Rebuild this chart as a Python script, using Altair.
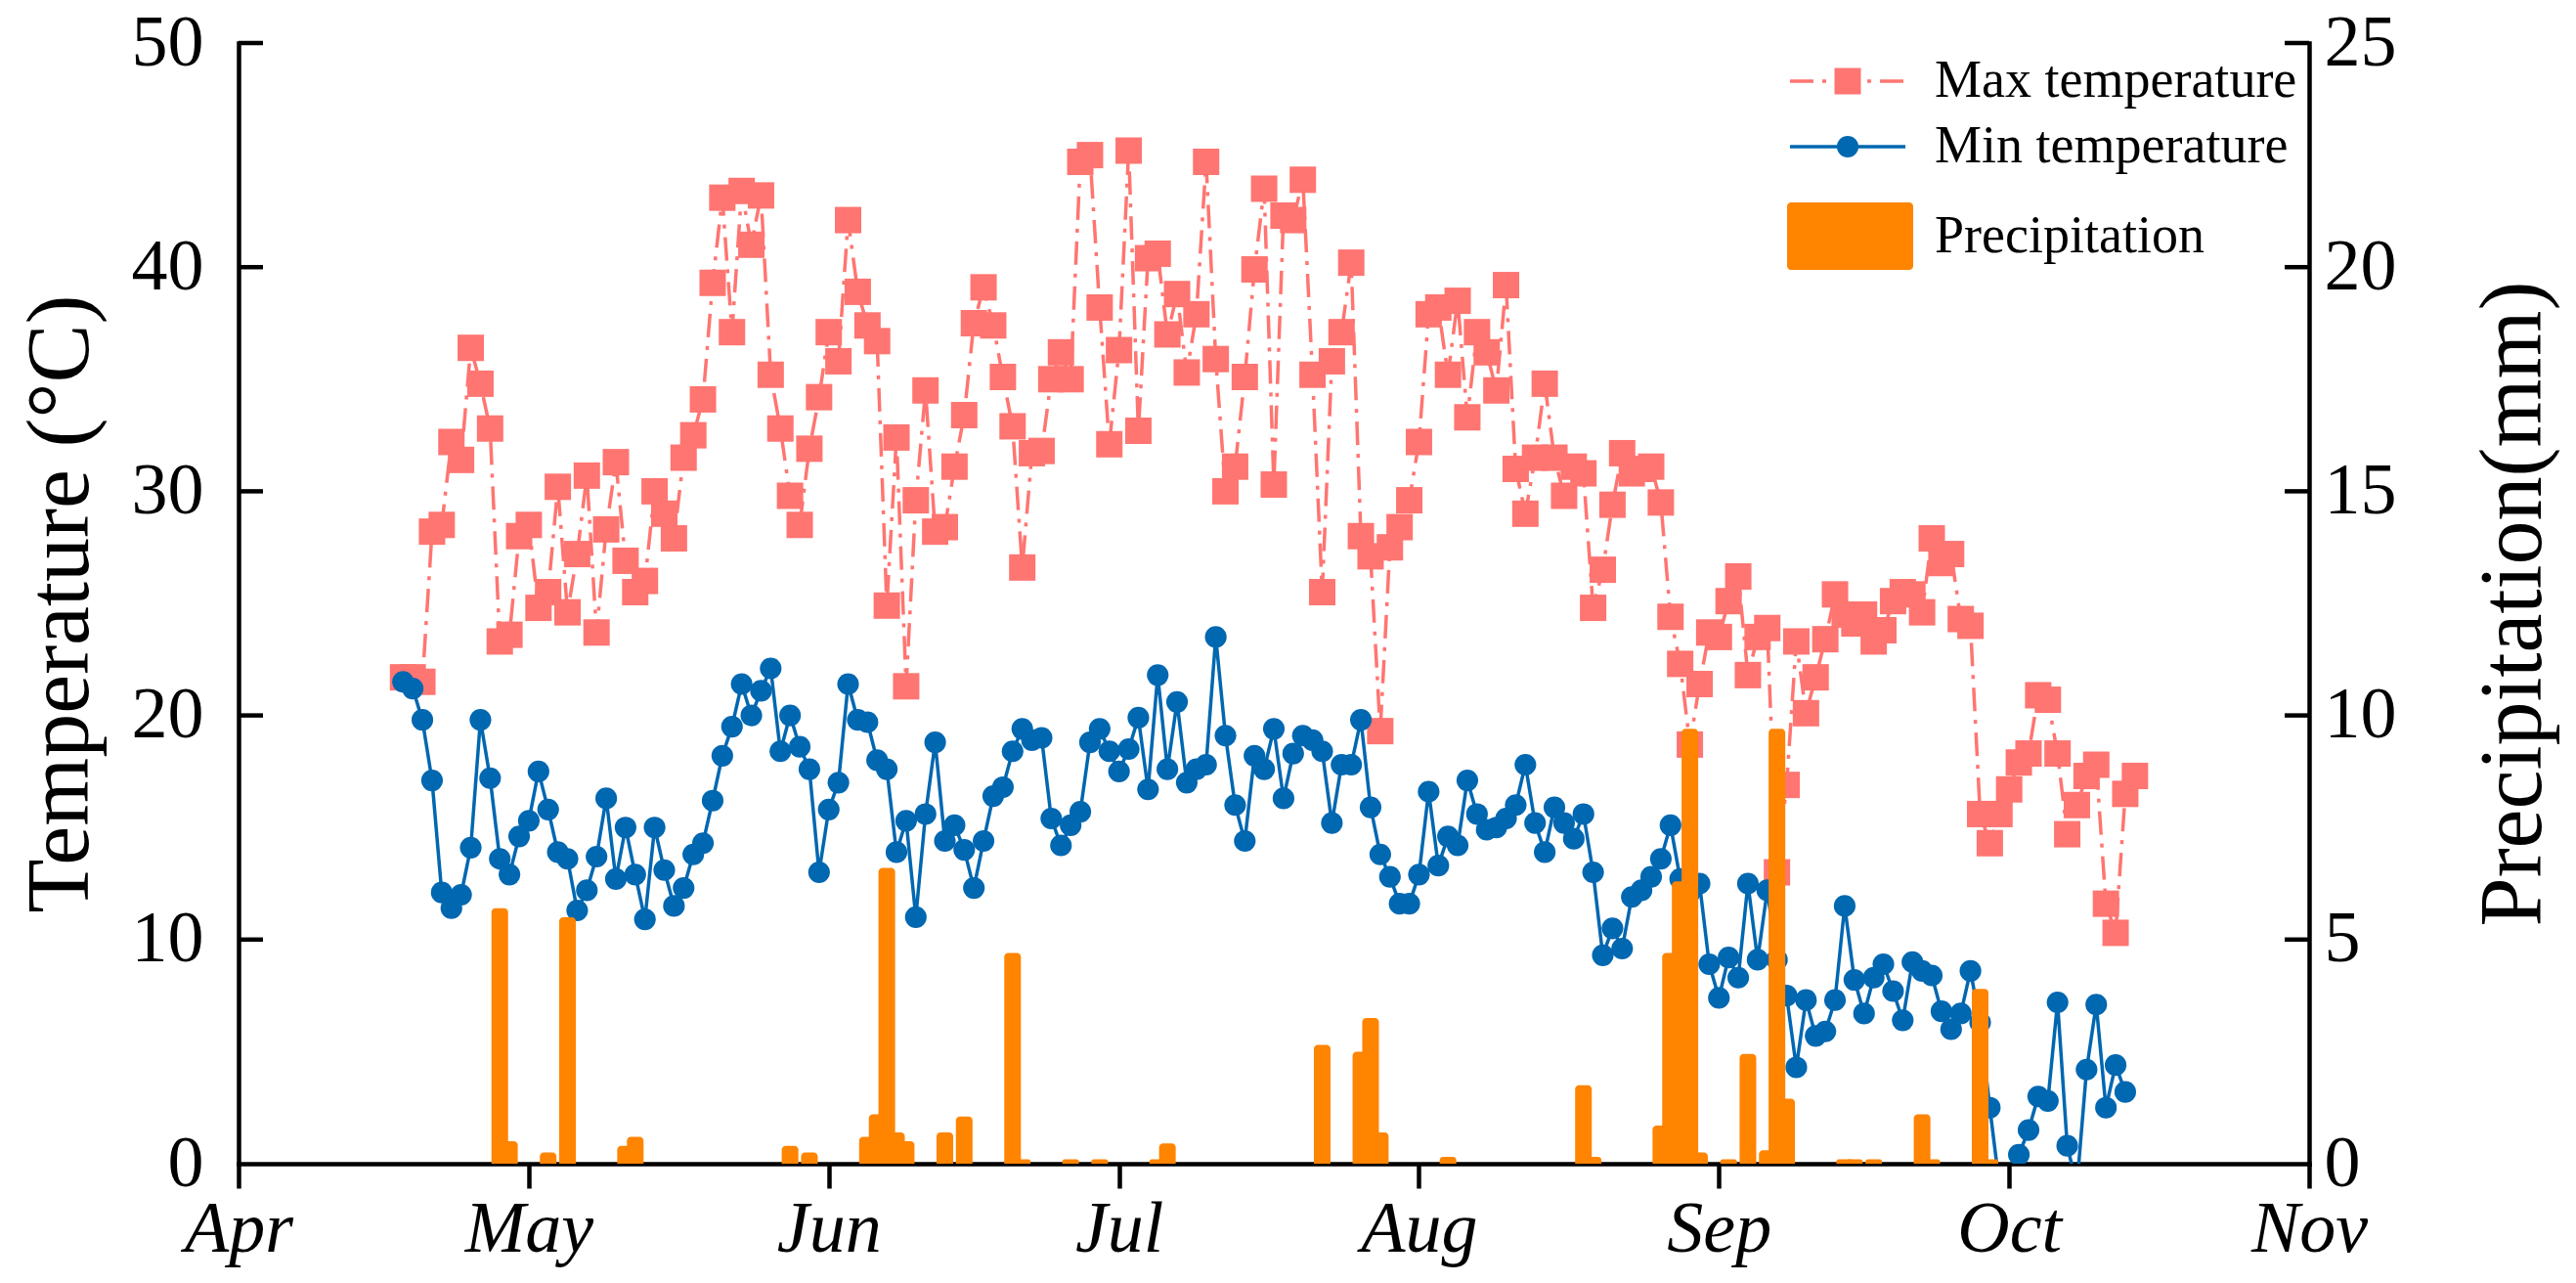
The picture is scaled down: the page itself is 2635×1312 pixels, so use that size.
import altair as alt
import pandas as pd

# ---------------- data ----------------
start_day = 17  # days after 1 April -> 18 April

max_temp = [
    21.7, 21.7, 21.5, 28.2, 28.5, 32.2, 31.4, 36.4, 34.8, 32.8,
    23.3, 23.6, 28.0, 28.5, 24.8, 25.5, 30.2, 24.6, 27.2, 30.7,
    23.7, 28.3, 31.3, 26.9, 25.5, 26.0, 30.0, 29.0, 27.9, 31.5,
    32.5, 34.1, 39.3, 43.1, 37.1, 43.4, 41.0, 43.2, 35.2, 32.8,
    29.8, 28.5, 31.9, 34.2, 37.1, 35.8, 42.1, 38.9, 37.4, 36.7,
    24.9, 32.4, 21.3, 29.6, 34.5, 28.2, 28.4, 31.1, 33.4, 37.5,
    39.1, 37.4, 35.1, 32.9, 26.6, 31.7, 31.8, 35.0, 36.2, 35.0,
    44.7, 45.0, 38.2, 32.1, 36.3, 45.2, 32.7, 40.4, 40.6, 37.0,
    38.8, 35.3, 37.9, 44.7, 35.9, 30.0, 31.1, 35.1, 39.9, 43.5,
    30.3, 42.3, 42.1, 43.9, 35.2, 25.5, 35.8, 37.1, 40.2, 28.0,
    27.1, 19.3, 27.5, 28.4, 29.6, 32.2, 37.9, 38.2, 35.2, 38.5,
    33.3, 37.1, 36.2, 34.5, 39.2, 31.0, 29.0, 31.5, 34.8, 31.5,
    29.8, 31.1, 30.8, 24.8, 26.5, 29.4, 31.7, 30.8, 31.0, 31.1,
    29.5, 24.4, 22.3, 18.7, 21.4, 23.7, 23.5, 25.1, 26.2, 21.8,
    23.5, 23.9, 13.0, 16.9, 23.3, 20.1, 21.7, 23.4, 25.4, 24.5,
    24.1, 24.5, 23.3, 23.8, 25.1, 25.5, 25.4, 24.6, 27.9, 26.8,
    27.2, 24.3, 24.0, 15.6, 14.3, 15.6, 16.7, 17.9, 18.3, 20.9,
    20.7, 18.3, 14.7, 16.0, 17.3, 17.8, 11.6, 10.3, 16.5, 17.3,
]

min_temp = [
    21.5, 21.2, 19.8, 17.1, 12.1, 11.4, 12.0, 14.1, 19.8, 17.2,
    13.6, 12.9, 14.6, 15.3, 17.5, 15.8, 13.9, 13.6, 11.3, 12.2,
    13.7, 16.3, 12.7, 15.0, 12.9, 10.9, 15.0, 13.1, 11.5, 12.3,
    13.8, 14.3, 16.2, 18.2, 19.5, 21.4, 20.0, 21.1, 22.1, 18.4,
    20.0, 18.6, 17.6, 13.0, 15.8, 17.0, 21.4, 19.8, 19.7, 18.0,
    17.6, 13.9, 15.3, 11.0, 15.6, 18.8, 14.4, 15.1, 14.0, 12.3,
    14.4, 16.4, 16.8, 18.4, 19.4, 18.9, 19.0, 15.4, 14.2, 15.1,
    15.7, 18.8, 19.4, 18.4, 17.5, 18.5, 19.9, 16.7, 21.8, 17.6,
    20.6, 17.0, 17.6, 17.8, 23.5, 19.1, 16.0, 14.4, 18.2, 17.6,
    19.4, 16.3, 18.3, 19.1, 18.9, 18.4, 15.2, 17.8, 17.8, 19.8,
    15.9, 13.8, 12.8, 11.6, 11.6, 12.9, 16.6, 13.3, 14.6, 14.2,
    17.1, 15.6, 14.9, 15.0, 15.4, 16.0, 17.8, 15.2, 13.9, 15.9,
    15.2, 14.5, 15.6, 13.0, 9.3, 10.5, 9.6, 11.9, 12.2, 12.8,
    13.6, 15.1, 12.7, 12.1, 12.5, 8.9, 7.4, 9.2, 8.3, 12.5,
    9.1, 12.2, 9.1, 7.5, 4.3, 7.3, 5.7, 5.9, 7.3, 11.5,
    8.2, 6.7, 8.3, 8.9, 7.7, 6.4, 9.0, 8.6, 8.4, 6.8,
    6.0, 6.7, 8.6, 6.3, 2.5, -1.0, -0.8, 0.4, 1.5, 3.0,
    2.8, 7.2, 0.8, -1.0, 4.2, 7.1, 2.5, 4.4, 3.2,
]

precip_day = [27, 28, 32, 34, 40, 41, 57, 59, 65, 66, 67, 68, 69, 73, 75, 80, 81,
              86, 89, 95, 96, 112, 116, 117, 118, 125, 139, 140, 147, 148, 149,
              150, 151, 154, 156, 158, 159, 160, 166, 167, 169, 174, 175, 180, 181]
precip_mm = [5.7, 0.5, 0.25, 5.5, 0.4, 0.6, 0.4, 0.25, 0.6, 1.1, 6.6, 0.7, 0.5, 0.7, 1.05, 4.7, 0.1,
             0.1, 0.1, 0.1, 0.45, 2.65, 2.5, 3.25, 0.7, 0.15, 1.75, 0.15, 0.85, 4.7, 6.3,
             9.7, 0.25, 0.1, 2.45, 0.3, 9.7, 1.45, 0.1, 0.1, 0.1, 1.1, 0.1, 3.9, 0.1]

month_ticks = [0, 30, 61, 91, 122, 153, 183, 214]
month_labels = ["Apr", "May", "Jun", "Jul", "Aug", "Sep", "Oct", "Nov"]
temp_ticks = [0, 10, 20, 30, 40, 50]
precip_ticks = [0, 5, 10, 15, 20, 25]

series_names = ["Max temperature", "Min temperature", "Precipitation"]

# ---------------- tables ----------------
df_max = pd.DataFrame({"day": [start_day + i for i in range(len(max_temp))], "t": max_temp})
df_min = pd.DataFrame({"day": [start_day + i for i in range(len(min_temp))], "t": min_temp})
df_pr = pd.DataFrame({"day": precip_day, "p": precip_mm})
df_tt = pd.DataFrame({"t": temp_ticks[1:]})
df_pt = pd.DataFrame({"p": precip_ticks[1:]})

# ---------------- styles ----------------
W, H = 2118, 1146
FONT = "Liberation Serif"
C_MAX = "#FF7571"
C_MIN = "#0067B1"
C_PR = "#FF8400"
DASH = [24, 9, 4, 9]
LW = 3.5
AXW = 4.5
BAR_HALF = 0.86  # half bar width, in days

label_expr = ("[" + ",".join(f"'{m}'" for m in month_labels) + "][indexof(["
              + ",".join(str(v) for v in month_ticks) + "], datum.value)]")

x_scale = alt.Scale(domain=[month_ticks[0], month_ticks[-1]], nice=False, zero=False)
x_axis = alt.Axis(values=month_ticks, labelExpr=label_expr, title=None,
                  tickSize=25, labelPadding=6, labelFontStyle="italic",
                  labelFlush=False, labelOverlap=False, labelAngle=0)
x_enc = alt.X("day:Q", scale=x_scale, axis=x_axis)

t_scale = alt.Scale(domain=[0, 50], nice=False, zero=True)
p_scale = alt.Scale(domain=[0, 25], nice=False, zero=True)

t_axis = alt.Axis(orient="left", values=temp_ticks, ticks=False, tickSize=0,
                  labelPadding=36, labelFlush=False, format="d",
                  title="Temperature (°C)", titleX=-226, titleY=H / 2,
                  titleAngle=270, titleBaseline="top", titleAlign="center")
p_axis = alt.Axis(orient="right", values=precip_ticks, ticks=False, tickSize=0,
                  labelPadding=15, labelFlush=False, format="d",
                  title="Precipitation(mm)", titleX=165, titleY=H / 2,
                  titleAngle=270, titleBaseline="top", titleAlign="center")

t_enc = alt.Y("t:Q", scale=t_scale, axis=t_axis)
p_enc = alt.Y("p:Q", scale=p_scale, axis=p_axis)

# ---------------- temperature layer ----------------
max_line = alt.Chart(df_max).mark_line(color=C_MAX, strokeWidth=LW, strokeDash=DASH, clip=True).encode(
    x=x_enc, y=t_enc)
max_pts = alt.Chart(df_max).mark_point(shape="square", filled=True, opacity=1, size=729,
                                       color=C_MAX, clip=True).encode(x=x_enc, y=t_enc)
min_line = alt.Chart(df_min).mark_line(color=C_MIN, strokeWidth=LW, clip=True).encode(
    x=x_enc, y=t_enc)
min_pts = alt.Chart(df_min).mark_point(shape="circle", filled=True, opacity=1, size=490,
                                       color=C_MIN, clip=True).encode(x=x_enc, y=t_enc)
t_ticks = alt.Chart(df_tt).mark_rule(color="black", strokeWidth=AXW).encode(
    x=alt.value(0), x2=alt.value(25), y=t_enc)

temp_layer = alt.layer(max_line, max_pts, min_line, min_pts, t_ticks)

# ---------------- precipitation layer ----------------
bars = (
    alt.Chart(df_pr)
    .transform_calculate(x0=f"datum.day - {BAR_HALF}", x1=f"datum.day + {BAR_HALF}", p0="0")
    .mark_bar(color=C_PR, cornerRadiusTopLeft=4, cornerRadiusTopRight=4)
    .encode(x=alt.X("x0:Q", scale=x_scale, axis=x_axis), x2="x1:Q",
            y=p_enc, y2="p0:Q")
)
p_ticks = alt.Chart(df_pt).mark_rule(color="black", strokeWidth=AXW).encode(
    x=alt.value(W - 25), x2=alt.value(W), y=p_enc)

precip_layer = alt.layer(bars, p_ticks)

# ---------------- legend (drawn by hand, as in the reference) ----------------
leg_font = 54
lg_x0, lg_x1, lg_xm, lg_tx = 1587, 1705, 1646, 1735
row_y = [39, 106, 198]
lg_df = [pd.DataFrame({"label": [n]}) for n in series_names]

leg_max_line = alt.Chart(lg_df[0]).mark_rule(color=C_MAX, strokeWidth=LW, strokeDash=DASH).encode(
    x=alt.value(lg_x0), x2=alt.value(lg_x1), y=alt.value(row_y[0]))
leg_max_pt = alt.Chart(lg_df[0]).mark_point(shape="square", filled=True, opacity=1, size=729, color=C_MAX).encode(
    x=alt.value(lg_xm), y=alt.value(row_y[0]))
leg_min_line = alt.Chart(lg_df[1]).mark_rule(color=C_MIN, strokeWidth=LW).encode(
    x=alt.value(lg_x0), x2=alt.value(lg_x1), y=alt.value(row_y[1]))
leg_min_pt = alt.Chart(lg_df[1]).mark_point(shape="circle", filled=True, opacity=1, size=490, color=C_MIN).encode(
    x=alt.value(lg_xm), y=alt.value(row_y[1]))
leg_pr = alt.Chart(lg_df[2]).mark_rect(color=C_PR, cornerRadius=4).encode(
    x=alt.value(1584), x2=alt.value(1713), y=alt.value(row_y[2] - 35), y2=alt.value(row_y[2] + 34))
leg_texts = [
    alt.Chart(lg_df[i]).mark_text(font=FONT, fontSize=leg_font, color="black",
                                  align="left", baseline="middle").encode(
        x=alt.value(lg_tx), y=alt.value(row_y[i]), text="label:N")
    for i in range(3)
]

legend_layer = alt.layer(leg_max_line, leg_max_pt, leg_min_line, leg_min_pt, leg_pr, *leg_texts)

chart = (
    alt.layer(temp_layer, precip_layer, legend_layer)
    .resolve_scale(y="independent")
    .properties(width=W, height=H,
                autosize=alt.AutoSizeParams(type="none"),
                padding={"left": 236, "top": 36, "right": 257, "bottom": 108})
    .configure_view(stroke=None)
    .configure_axis(grid=False, domainColor="black", tickColor="black",
                    labelColor="black", titleColor="black",
                    labelFont=FONT, titleFont=FONT,
                    domainWidth=AXW, tickWidth=AXW, domainCap="square",
                    labelFontSize=74, titleFontSize=90,
                    titleFontWeight="normal", labelFontWeight="normal")
)

chart.save("out.html", embed_options={"renderer": "svg", "actions": False})
